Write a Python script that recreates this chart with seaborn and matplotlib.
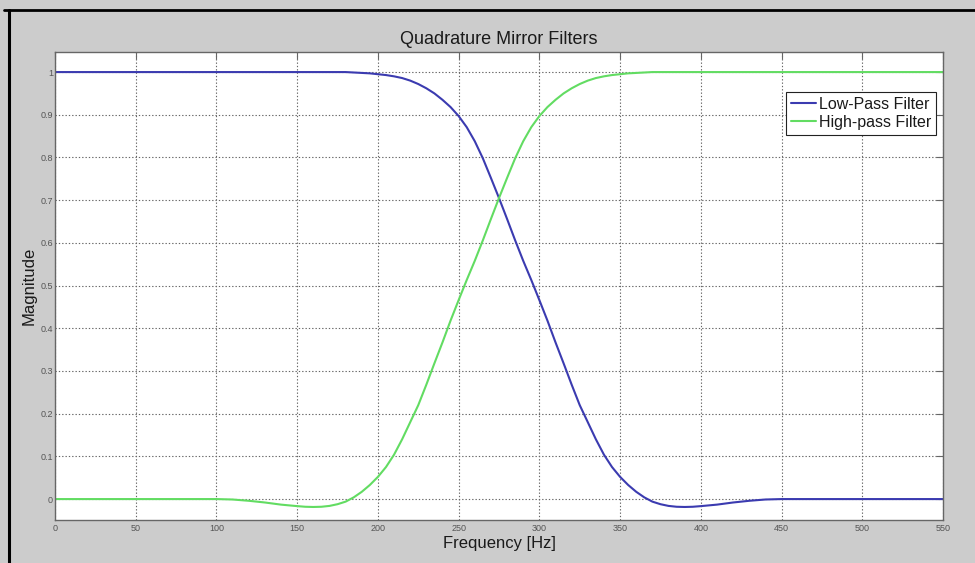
import matplotlib
matplotlib.use("Agg")
import matplotlib.pyplot as plt
from matplotlib.lines import Line2D
import seaborn as sns
import pandas as pd

# Frequency grid (Hz) on which both filter responses were sampled
freq = [0, 50, 100, 110, 120, 130, 140, 150, 155, 160, 165, 170, 175, 180,
        185, 190, 195, 200, 205, 210, 215, 220, 225, 230, 235, 240, 245, 250,
        255, 260, 265, 270, 275, 280, 285, 290, 295, 300, 305, 310, 315, 320,
        325, 330, 335, 340, 345, 350, 355, 360, 365, 370, 375, 380, 385, 390,
        395, 400, 410, 420, 430, 440, 450, 500, 550]

low_pass = [1.0, 1.0, 1.0, 1.0, 1.0, 1.0, 1.0, 1.0, 1.0, 1.0, 1.0, 1.0, 1.0, 1.0,
            0.999, 0.998, 0.997, 0.995, 0.993, 0.990, 0.986, 0.980, 0.972, 0.962,
            0.950, 0.935, 0.918, 0.897, 0.871, 0.838, 0.798, 0.752, 0.705, 0.656,
            0.606, 0.558, 0.513, 0.466, 0.418, 0.367, 0.318, 0.268, 0.220, 0.180,
            0.140, 0.104, 0.075, 0.052, 0.033, 0.017, 0.004, -0.006, -0.012,
            -0.016, -0.018, -0.0185, -0.018, -0.0165, -0.013, -0.008, -0.004,
            -0.001, 0.0, 0.0, 0.0]

high_pass = [0.0, 0.0, 0.0, -0.001, -0.004, -0.008, -0.013, -0.0165, -0.018,
             -0.0185, -0.018, -0.016, -0.012, -0.006, 0.004, 0.017, 0.033, 0.052,
             0.075, 0.104, 0.140, 0.180, 0.220, 0.268, 0.318, 0.367, 0.418, 0.466,
             0.513, 0.558, 0.606, 0.656, 0.705, 0.752, 0.798, 0.838, 0.871, 0.897,
             0.918, 0.935, 0.950, 0.962, 0.972, 0.980, 0.986, 0.990, 0.993, 0.995,
             0.997, 0.998, 0.999, 1.0, 1.0, 1.0, 1.0, 1.0, 1.0, 1.0, 1.0, 1.0, 1.0,
             1.0, 1.0, 1.0, 1.0]

series_names = ["Low-Pass Filter", "High-pass Filter"]
series_colors = ["#3b3bb0", "#62dc62"]

x_ticks = list(range(0, 551, 50))
y_ticks = [0, 0.1, 0.2, 0.3, 0.4, 0.5, 0.6, 0.7, 0.8, 0.9, 1]
y_tick_labels = ["0", "0.1", "0.2", "0.3", "0.4", "0.5", "0.6", "0.7", "0.8", "0.9", "1"]

df = pd.concat([
    pd.DataFrame({"Frequency": freq, "Magnitude": low_pass, "Filter": series_names[0]}),
    pd.DataFrame({"Frequency": freq, "Magnitude": high_pass, "Filter": series_names[1]}),
])

sns.set_theme(style="white")
plt.rcParams["font.family"] = ["Liberation Sans", "DejaVu Sans"]

fig = plt.figure(figsize=(9.75, 5.63), dpi=100, facecolor="#cccccc")
ax = fig.add_axes([55 / 975, 43 / 563, 888 / 975, 468 / 563])
ax.set_facecolor("white")

sns.lineplot(data=df, x="Frequency", y="Magnitude", hue="Filter",
             palette=dict(zip(series_names, series_colors)), linewidth=1.5,
             sort=False, estimator=None, ax=ax)

ax.set_xlim(0, 550)
ax.set_ylim(-0.049, 1.047)
ax.set_xticks(x_ticks)
ax.set_xticklabels([str(t) for t in x_ticks])
ax.set_yticks(y_ticks)
ax.set_yticklabels(y_tick_labels)

ax.grid(True, color="#666666", linestyle=(0, (1.2, 1.8)), linewidth=0.8)
ax.set_axisbelow(True)
ax.tick_params(direction="in", length=5, width=0.8, color="#666666",
               labelsize=6.5, labelcolor="#555555", top=True, right=True)
ax.tick_params(axis="x", pad=3)
ax.tick_params(axis="y", pad=1.5)
for sp in ax.spines.values():
    sp.set_color("#666666")
    sp.set_linewidth(1.0)

ax.set_title("Quadrature Mirror Filters", fontsize=13, color="#1a1a1a", pad=6)
ax.set_xlabel("Frequency [Hz]", fontsize=12, color="#1a1a1a", labelpad=2)
ax.set_ylabel("Magnitude", fontsize=12, color="#1a1a1a", labelpad=3)

leg = ax.legend(loc="upper right", bbox_to_anchor=(0.992, 0.9145),
                borderaxespad=0, fontsize=11.5, frameon=True, fancybox=False,
                framealpha=1, edgecolor="#222222", handlelength=1.6,
                handletextpad=0.15, borderpad=0.3, labelspacing=0.2)
leg.get_frame().set_linewidth(0.8)
for t in leg.get_texts():
    t.set_color("#1a1a1a")

# Black frame along the top and left edges of the window
fig.add_artist(Line2D([4 / 975, 1.0], [1 - 10 / 563, 1 - 10 / 563],
                      transform=fig.transFigure, color="black", linewidth=2))
fig.add_artist(Line2D([9 / 975, 9 / 975], [0, 1 - 10 / 563],
                      transform=fig.transFigure, color="black", linewidth=2.2))

fig.savefig("out.png", dpi=100, facecolor=fig.get_facecolor())
